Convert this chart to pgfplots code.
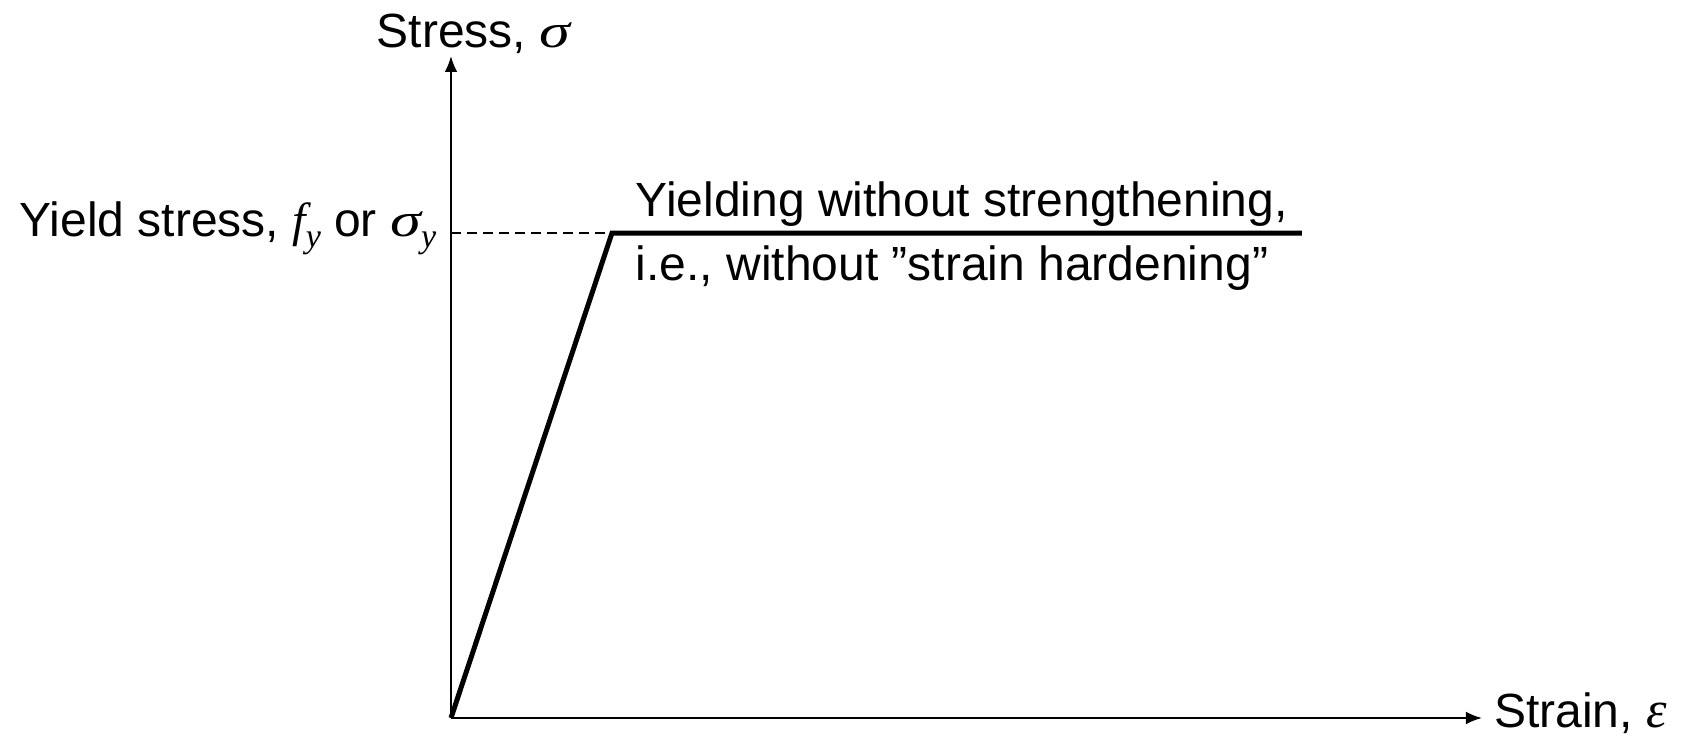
\documentclass[border=0pt]{standalone}
\usepackage{fontspec}
\setmainfont{Liberation Sans}
\newfontfamily\serifit{Liberation Serif}
\newfontfamily\serifwide{Liberation Serif}[FakeStretch=1.3]
\usepackage{pgfplots}
\pgfplotsset{compat=1.18}
\usetikzlibrary{arrows.meta}

% italic serif symbols and their subscripts
\newcommand{\sym}[1]{{\serifit\itshape #1}}
\newcommand{\wsym}[1]{{\serifwide\itshape #1}}
\newcommand{\sub}[1]{\raisebox{-0.4ex}{\fontsize{8.5pt}{10pt}\selectfont\serifit\itshape #1}}

% idealised elastic--perfectly plastic material (strain in units of eps_y, stress in units of f_y)
\pgfplotstableread{
eps   sig
0     0
1     1
5.286 1
}\curve

\begin{document}
\begin{tikzpicture}[font=\fontsize{12pt}{14pt}\selectfont]
\begin{axis}[
  at={(0,0)}, anchor=south west,
  scale only axis,
  width=257.75pt, height=165.5pt,
  xmin=0, xmax=6.404, ymin=0, ymax=1.365,
  axis lines=left,
  axis line style={line width=0.5pt, -{Latex[length=4pt,width=3.2pt]}},
  xtick=\empty, ytick=\empty,
  clip=false,
]
  \addplot[black, line width=0.4pt, dash pattern=on 2.4pt off 1.6pt] coordinates {(0,1) (1,1)};
  \addplot[black, line width=1.25pt, line join=miter] table[x=eps, y=sig] {\curve};

  \node[anchor=base west, inner sep=0pt] at (axis cs:-0.466,1.3835) {Stress, \wsym{σ}};
  \node[anchor=base east, inner sep=0pt] at (axis cs:-0.087,0.9918)
    {Yield stress, \sym{f}\sub{y} or \wsym{σ}\sub{y}};
  \node[anchor=base west, inner sep=0pt] at (axis cs:1.143,1.035) {Yielding without strengthening,};
  \node[anchor=base west, inner sep=0pt] at (axis cs:1.143,0.903) {i.e., without ”strain hardening”};
  \node[anchor=base west, inner sep=0pt] at (axis cs:6.475,-0.0206) {Strain, {\fontsize{13pt}{14pt}\selectfont\sym{ε}}};
\end{axis}
\pgfresetboundingbox
\path[use as bounding box] (-112.75pt,-5pt) rectangle (308.5pt,179.5pt);
\end{tikzpicture}
\end{document}
